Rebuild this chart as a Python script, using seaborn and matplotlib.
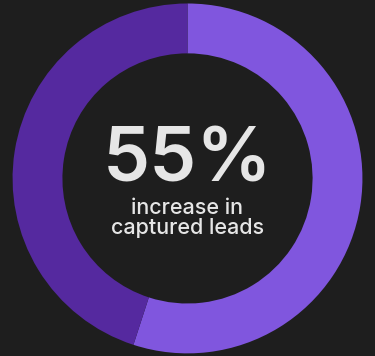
import matplotlib
matplotlib.use("Agg")
import matplotlib.pyplot as plt
import seaborn as sns

labels = ["Increase", "Remainder"]
values = [55, 45]
colors = ["#8056de", "#55299f"]
big_text = "55%"
sub_text = "increase in\ncaptured leads"

sns.set_theme(style="white")
bg = "#1e1e1e"
fig = plt.figure(figsize=(3.75, 3.56), dpi=100, facecolor=bg)
ax = fig.add_axes([0, 0, 1, 1])
ax.set_facecolor(bg)

ax.pie(values, colors=colors, startangle=90, counterclock=False,
       radius=1.0, wedgeprops=dict(width=0.285, linewidth=0),
       center=(0, 0))
ax.set_xlim(-1.07, 1.07)
ax.set_ylim(-1.015, 1.02)
ax.set_aspect("equal")
ax.axis("off")

ax.text(0.0, 0.095, big_text, ha="center", va="center", fontsize=54,
        color="#e6e6e6", family=["Inter", "DejaVu Sans"], fontweight=600)
ax.text(0.0, -0.225, sub_text, ha="center", va="center", fontsize=15.5,
        color="#e6e6e6", family=["Inter", "DejaVu Sans"], fontweight=500,
        linespacing=1.0)

fig.savefig("out.png", dpi=100, facecolor=bg)
